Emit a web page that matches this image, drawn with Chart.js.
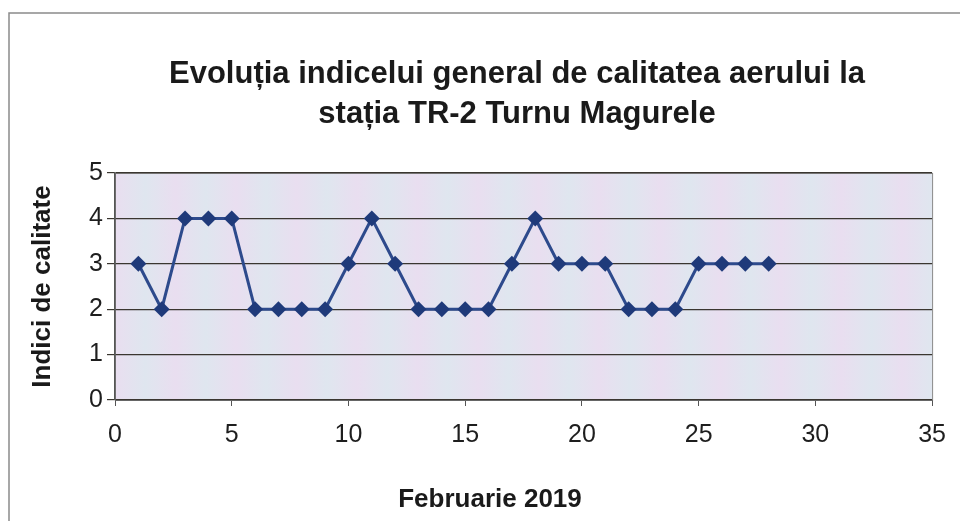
<!DOCTYPE html>
<html>
<head>
<meta charset="utf-8">
<script src="https://cdn.jsdelivr.net/npm/chart.js@4"></script>
<style>
  html, body { margin: 0; padding: 0; background: #fff; }
  #wrap { width: 960px; height: 521px; }
</style>
</head>
<body>
<div id="wrap"><canvas id="myChart"></canvas></div>
<script>
// zilele lunii si indicii de calitate
let days = [1, 2, 3, 4, 5, 6, 7, 8, 9, 10, 11, 12, 13, 14, 15, 16, 17, 18, 19, 20, 21, 22, 23, 24, 25, 26, 27, 28];
let indici = [3, 2, 4, 4, 4, 2, 2, 2, 2, 3, 4, 3, 2, 2, 2, 2, 3, 4, 3, 3, 3, 2, 2, 2, 3, 3, 3, 3];
let xTicks = [0, 5, 10, 15, 20, 25, 30, 35];
let yTicks = [0, 1, 2, 3, 4, 5];
let titleLines = ['Evoluția indicelui general de calitatea aerului la', 'stația TR-2 Turnu Magurele'];
let xTitle = 'Februarie 2019';
let yTitle = 'Indici de calitate';

let points = days.map((d, i) => ({ x: d, y: indici[i] }));

const FONT = '"Liberation Sans", Arial, sans-serif';

// fundal zona grafic + rama + titluri
const decor = {
    id: 'decor',
    beforeDraw(chart) {
        const { ctx, chartArea: a } = chart;
        ctx.save();
        ctx.fillStyle = '#fff';
        ctx.fillRect(0, 0, chart.width, chart.height);
        ctx.strokeStyle = '#8a8a8a';
        ctx.lineWidth = 1.5;
        ctx.strokeRect(9, 13, 980, 540);
        // fundal in dungi pastel, ca in original
        let g = ctx.createLinearGradient(a.left, 0, a.right, 0);
        let w = a.right - a.left;
        let n = Math.round(w / 30);
        for (let i = 0; i <= n; i++) {
            g.addColorStop(i / n, i % 2 ? '#dfe6ef' : '#e9def0');
        }
        ctx.fillStyle = g;
        ctx.fillRect(a.left, a.top, w, a.bottom - a.top);
        ctx.strokeStyle = '#888';
        ctx.lineWidth = 1;
        ctx.strokeRect(a.left + 0.5, a.top + 0.5, w, a.bottom - a.top);
        ctx.restore();
    },
    afterDraw(chart) {
        const { ctx } = chart;
        ctx.save();
        ctx.fillStyle = '#1a1a1a';
        ctx.textAlign = 'center';
        ctx.textBaseline = 'middle';
        ctx.font = 'bold 31px ' + FONT;
        ctx.fillText(titleLines[0], 517, 74);
        ctx.fillText(titleLines[1], 517, 114);
        ctx.font = 'bold 26px ' + FONT;
        ctx.fillText(xTitle, 490, 500);
        ctx.restore();
    }
};

let ctx = document.getElementById('myChart').getContext('2d');

let chart = new Chart(ctx, {
    type: 'scatter',
    data: {
        datasets: [{
            data: points,
            showLine: true,
            borderColor: '#2d4a8c',
            borderWidth: 3,
            backgroundColor: '#1f3a7a',
            pointStyle: 'rectRot',
            pointRadius: 8,
            pointHoverRadius: 8,
            pointBorderWidth: 0
        }]
    },
    options: {
        responsive: true,
        maintainAspectRatio: false,
        animation: false,
        events: [],
        layout: { padding: { top: 173, right: 27, bottom: 0, left: 0 } },
        plugins: {
            legend: { display: false },
            tooltip: { enabled: false },
            title: { display: false }
        },
        scales: {
            x: {
                type: 'linear',
                min: 0,
                max: 35,
                afterBuildTicks(scale) { scale.ticks = xTicks.map(v => ({ value: v })); },
                afterFit(scale) { scale.height = 121; },
                grid: { drawOnChartArea: false, drawTicks: true, tickLength: 6, color: '#555' },
                border: { color: '#666', width: 1 },
                ticks: { color: '#1e1e1e', padding: 14, font: { family: FONT, size: 25 } }
            },
            y: {
                min: 0,
                max: 5,
                afterBuildTicks(scale) { scale.ticks = yTicks.map(v => ({ value: v })); },
                afterFit(scale) { scale.width = 115; },
                grid: { color: '#3a3630', lineWidth: 1.2, tickLength: 8 },
                border: { color: '#555', width: 1.5 },
                ticks: { color: '#1e1e1e', padding: 4, font: { family: FONT, size: 25 } },
                title: {
                    display: true,
                    text: yTitle,
                    color: '#1a1a1a',
                    padding: { top: 27, bottom: 0 },
                    font: { family: FONT, size: 26, weight: 'bold' }
                }
            }
        }
    },
    plugins: [decor]
});
</script>
</body>
</html>
